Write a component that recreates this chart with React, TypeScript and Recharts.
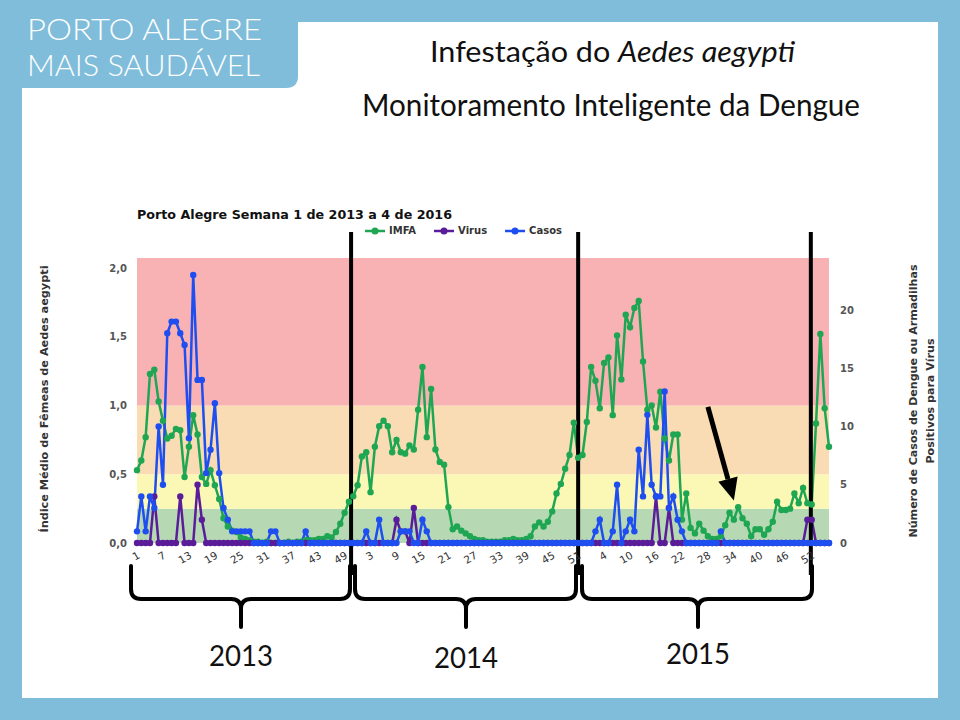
import React from 'react';
import { ComposedChart, Line, XAxis, YAxis, ReferenceArea, ReferenceLine, Legend } from 'recharts';

// IMFA (índice médio de fêmeas), por semana epidemiológica
const imfa2013 = [
  0.53, 0.6, 0.77, 1.23, 1.26, 1.03, 0.89, 0.76, 0.78, 0.83,
  0.82, 0.48, 0.7, 0.93, 0.79, 0.48, 0.43, 0.53, 0.42, 0.32,
  0.18, 0.12, 0.09, 0.08, 0.04, 0.03, 0.02, 0.01, 0.01, 0.0,
  0.01, 0.0, 0.0, 0.0, 0.0, 0.01, 0.0, 0.01, 0.01, 0.02,
  0.02, 0.02, 0.03, 0.03, 0.05, 0.04, 0.08, 0.14, 0.22, 0.3,
  0.34, 0.42,
];
const imfa2014 = [
  0.63, 0.66, 0.37, 0.7, 0.85, 0.89, 0.85, 0.66, 0.75, 0.66,
  0.65, 0.71, 0.68, 0.97, 1.28, 0.77, 1.12, 0.68, 0.59, 0.57,
  0.26, 0.1, 0.12, 0.09, 0.07, 0.05, 0.03, 0.02, 0.02, 0.01,
  0.01, 0.01, 0.01, 0.02, 0.02, 0.03, 0.02, 0.02, 0.03, 0.05,
  0.12, 0.15, 0.12, 0.155, 0.23, 0.36, 0.43, 0.54, 0.64, 0.875,
  0.62, 0.64, 0.88,
];
const imfa2015 = [
  1.28, 1.18, 0.98, 1.31, 1.35, 0.93, 1.51, 1.19, 1.66, 1.57,
  1.71, 1.76, 1.32, 0.97, 1.0, 0.84, 1.1, 0.76, 0.6, 0.79,
  0.79, 0.17, 0.36, 0.11, 0.07, 0.14, 0.09, 0.05, 0.03, 0.03,
  0.05, 0.13, 0.22, 0.17, 0.26, 0.18, 0.14, 0.05, 0.1, 0.1,
  0.06, 0.1, 0.155, 0.3, 0.24, 0.24, 0.25, 0.36, 0.29, 0.4,
  0.29, 0.28,
];
const imfa2016 = [0.87, 1.52, 0.98, 0.7];

// armadilhas positivas para vírus
const virus2013 = [
  0, 0, 0, 0, 4, 0, 0, 0, 0, 0, 4, 0, 0, 0, 5, 2, 0, 0, 0, 0,
  0, 0, 0, 0, 0, 0, 0, 0, 0, 0, 0, 0, 0, 0, 0, 0, 0, 0, 0, 0,
  0, 0, 0, 0, 0, 0, 0, 0, 0, 0, 0, 0,
];
const virus2014 = [
  0, 0, 0, 0, 0, 0, 0, 0, 2, 1, 1, 0, 3, 0, 0, 0, 0, 0, 0, 0,
  0, 0, 0, 0, 0, 0, 0, 0, 0, 0, 0, 0, 0, 0, 0, 0, 0, 0, 0, 0,
  0, 0, 0, 0, 0, 0, 0, 0, 0, 0, 0, 0, 0,
];
const virus2015 = [
  0, 0, 0, 0, 0, 0, 0, 0, 0, 0, 0, 0, 0, 0, 0, 4, 0, 0, 3, 0,
  0, 0, 0, 0, 0, 0, 0, 0, 0, 0, 0, 0, 0, 0, 0, 0, 0, 0, 0, 0,
  0, 0, 0, 0, 0, 0, 0, 0, 0, 0, 2, 2,
];
const virus2016 = [0, 0, 0, 0];

// casos de dengue
const casos2013 = [
  1, 4, 1, 4, 3, 10, 5, 18, 19, 19, 18, 17, 9, 23, 14, 14, 6, 8, 12, 6,
  3, 2, 1, 1, 1, 1, 1, 0, 0, 0, 0, 1, 1, 0, 0, 0, 0, 0, 0, 1,
  0, 0, 0, 0, 0, 0, 0, 0, 0, 0, 0, 0,
];
const casos2014 = [
  0, 1, 0, 0, 2, 0, 0, 0, 0, 1, 1, 1, 0, 0, 2, 1, 0, 0, 0, 0,
  0, 0, 0, 0, 0, 0, 0, 0, 0, 0, 0, 0, 0, 0, 0, 0, 0, 0, 0, 0,
  0, 0, 0, 0, 0, 0, 0, 0, 0, 0, 0, 0, 0,
];
const casos2015 = [
  0, 1, 2, 0, 0, 1, 5, 0, 1, 2, 1, 8, 4, 11, 5, 4, 4, 13, 3, 4,
  2, 1, 0, 0, 0, 0, 0, 0, 0, 0, 1, 0, 0, 0, 0, 0, 0, 0, 0, 0,
  0, 0, 0, 0, 0, 0, 0, 0, 0, 0, 0, 0,
];
const casos2016 = [0, 0, 0, 0];

const seriesNames = ['IMFA', 'Virus', 'Casos'];
const yearWeeks = [52, 53, 52, 4];
const yearNames = ['2013', '2014', '2015'];
const tickIdx = [
  1, 7, 13, 19, 25, 31, 37, 43, 49, 55, 61, 67, 73, 79, 85, 91, 97, 103,
  109, 115, 121, 127, 133, 139, 145, 151, 157,
];
const bandLimits = [0, 0.25, 0.5, 1.0, 2.073];
const dividerWeeks = [50.5, 103, 156.8];
const arrowFrom = { x: 133, y: 0.99 };
const arrowTo = { x: 139, y: 0.31 };

const imfa = [...imfa2013, ...imfa2014, ...imfa2015, ...imfa2016];
const virus = [...virus2013, ...virus2014, ...virus2015, ...virus2016];
const casos = [...casos2013, ...casos2014, ...casos2015, ...casos2016];

const rows = imfa.map((v, i) => ({ idx: i + 1, imfa: v, virus: virus[i], casos: casos[i] }));

const weekLabel = (i: number) => {
  let w = i;
  for (const n of yearWeeks) {
    if (w <= n) return String(w);
    w -= n;
  }
  return String(w);
};

const FRAME = '#7fbddb';
const GREEN = '#1fa653';
const PURPLE = '#5a1c99';
const BLUE = '#1f4ef0';
const BAND_COLORS = ['#b6d9b4', '#fbf8b6', '#f9dcb3', '#f9b2b4'];
const VERDANA = '"DejaVu Sans", Verdana, sans-serif';
const CALIBRI = 'Lato, "Open Sans", sans-serif';

const Divider = (p: any) => (
  <line x1={p.x1} x2={p.x2} y1={232} y2={575} stroke="#000" strokeWidth={4} />
);

const Arrow = (p: any) => {
  const { x1, y1, x2, y2 } = p;
  const dx = x2 - x1;
  const dy = y2 - y1;
  const len = Math.hypot(dx, dy) || 1;
  const ux = dx / len;
  const uy = dy / len;
  const hl = 22;
  const hw = 10;
  const bx = x2 - ux * hl;
  const by = y2 - uy * hl;
  return (
    <g>
      <line x1={x1} y1={y1} x2={bx} y2={by} stroke="#000" strokeWidth={5} />
      <polygon
        points={`${x2},${y2} ${bx - uy * hw},${by + ux * hw} ${bx + uy * hw},${by - ux * hw}`}
        fill="#000"
      />
    </g>
  );
};

const renderLegend = (props: any) => {
  const items = [...(props.payload || [])].sort(
    (a: any, b: any) => seriesNames.indexOf(a.value) - seriesNames.indexOf(b.value)
  );
  return (
    <div style={{ display: 'flex', gap: 18, fontFamily: VERDANA, fontSize: 10, fontWeight: 'bold', color: '#333' }}>
      {items.map((e: any) => (
        <div key={e.value} style={{ display: 'flex', alignItems: 'center' }}>
          <svg width={20} height={10}>
            <line x1={0} y1={5} x2={20} y2={5} stroke={e.color} strokeWidth={2.5} />
            <circle cx={10} cy={5} r={3.5} fill={e.color} />
          </svg>
          <span style={{ marginLeft: 4 }}>{e.value}</span>
        </div>
      ))}
    </div>
  );
};

const brace = (x1: number, x2: number, xm: number, yTop: number, yBar: number, yTip: number, r = 10) =>
  `M${x1},${yTop} L${x1},${yBar - r} Q${x1},${yBar} ${x1 + r},${yBar} L${xm - r},${yBar} ` +
  `Q${xm},${yBar} ${xm},${yBar + r} L${xm},${yTip} M${xm},${yBar + r} Q${xm},${yBar} ${xm + r},${yBar} ` +
  `L${x2 - r},${yBar} Q${x2},${yBar} ${x2},${yBar - r} L${x2},${yTop}`;

const braces = [
  { x1: 131, x2: 350, xm: 241, ty: 666 },
  { x1: 355, x2: 576, xm: 466, ty: 668 },
  { x1: 582, x2: 812, xm: 698, ty: 664 },
];

export default function App() {
  return (
    <div style={{ position: 'absolute', left: 0, top: 0, width: 960, height: 720, overflow: 'hidden' }}>
      <svg width={960} height={720} style={{ position: 'absolute', left: 0, top: 0 }}>
        <rect width={960} height={720} fill={FRAME} />
        <rect x={22} y={22} width={916} height={676} fill="#fff" />
        <path d="M0,0 H298 V76 Q298,88 286,88 H0 Z" fill={FRAME} />
        <text x={27} y={40} fill="#fff" fontSize={30} fontFamily={CALIBRI} fontWeight={300}
          textLength={235} lengthAdjust="spacingAndGlyphs">PORTO ALEGRE</text>
        <text x={27} y={76} fill="#fff" fontSize={30} fontFamily={CALIBRI} fontWeight={300}
          textLength={233} lengthAdjust="spacingAndGlyphs">MAIS SAUDÁVEL</text>
        <text x={430} y={62} fill="#111" fontSize={28} fontFamily={CALIBRI}
          textLength={365} lengthAdjust="spacingAndGlyphs">
          Infestação do <tspan fontStyle="italic">Aedes aegypti</tspan>
        </text>
        <text x={362} y={116} fill="#111" fontSize={30} fontFamily={CALIBRI}
          textLength={498} lengthAdjust="spacingAndGlyphs">Monitoramento Inteligente da Dengue</text>
        <text x={137} y={219} fill="#111" fontSize={12.5} fontWeight="bold" fontFamily={VERDANA}
          textLength={315} lengthAdjust="spacingAndGlyphs">Porto Alegre Semana 1 de 2013 a 4 de 2016</text>
        <text transform="translate(48,399) rotate(-90)" textAnchor="middle" fill="#333" fontSize={10.5}
          fontWeight="bold" fontFamily={VERDANA} textLength={267} lengthAdjust="spacingAndGlyphs">
          Índice Médio de Fêmeas de Aedes aegypti
        </text>
        <text transform="translate(917,401) rotate(-90)" textAnchor="middle" fill="#333" fontSize={10.5}
          fontWeight="bold" fontFamily={VERDANA} textLength={273} lengthAdjust="spacingAndGlyphs">
          Número de Casos de Dengue ou Armadilhas
        </text>
        <text transform="translate(934,401) rotate(-90)" textAnchor="middle" fill="#333" fontSize={10.5}
          fontWeight="bold" fontFamily={VERDANA} textLength={125} lengthAdjust="spacingAndGlyphs">
          Positivos para Vírus
        </text>
      </svg>

      <div style={{ position: 'absolute', left: 0, top: 0 }}>
        <ComposedChart width={960} height={720} data={rows} margin={{ top: 258, right: 71, bottom: 147, left: 77 }}>
          <XAxis
            dataKey="idx"
            type="number"
            domain={[1, 161]}
            ticks={tickIdx}
            interval={0}
            tickFormatter={weekLabel}
            axisLine={false}
            tickLine={false}
            height={30}
            tick={{ angle: -30, textAnchor: 'end', fontSize: 10.5, fill: '#333', fontFamily: VERDANA }}
          />
          <YAxis
            yAxisId="l"
            width={60}
            domain={[0, 2.073]}
            ticks={[0, 0.5, 1, 1.5, 2]}
            tickFormatter={(v: number) => v.toFixed(1).replace('.', ',')}
            axisLine={false}
            tickLine={false}
            tickMargin={4}
            tick={{ fontSize: 10, fontWeight: 'bold', fill: '#555', fontFamily: VERDANA }}
          />
          <YAxis
            yAxisId="r"
            orientation="right"
            width={60}
            domain={[0, 24.46]}
            ticks={[0, 5, 10, 15, 20]}
            axisLine={false}
            tickLine={false}
            tickMargin={5}
            tick={{ fontSize: 10, fontWeight: 'bold', fill: '#555', fontFamily: VERDANA }}
          />
          {BAND_COLORS.map((c, i) => (
            <ReferenceArea key={c} yAxisId="l" y1={bandLimits[i]} y2={bandLimits[i + 1]}
              fill={c} fillOpacity={1} stroke="none" />
          ))}
          <Legend
            layout="horizontal"
            verticalAlign="middle"
            align="center"
            content={renderLegend}
            wrapperStyle={{ top: 225, left: 365, width: 240, height: 14 }}
          />
          <Line yAxisId="l" name="IMFA" dataKey="imfa" stroke={GREEN} strokeWidth={2.5}
            dot={{ r: 3.2, fill: GREEN, stroke: GREEN, strokeWidth: 0 }} isAnimationActive={false} />
          <Line yAxisId="r" name="Virus" dataKey="virus" stroke={PURPLE} strokeWidth={2.5}
            dot={{ r: 3.2, fill: PURPLE, stroke: PURPLE, strokeWidth: 0 }} isAnimationActive={false} />
          <Line yAxisId="r" name="Casos" dataKey="casos" stroke={BLUE} strokeWidth={2.5}
            dot={{ r: 3.2, fill: BLUE, stroke: BLUE, strokeWidth: 0 }} isAnimationActive={false} />
          {dividerWeeks.map((w) => (
            <ReferenceLine key={w} yAxisId="l" x={w} shape={Divider} ifOverflow="visible" />
          ))}
          <ReferenceLine yAxisId="l" segment={[arrowFrom, arrowTo]} shape={Arrow} ifOverflow="visible" />
        </ComposedChart>
      </div>

      <svg width={960} height={720} style={{ position: 'absolute', left: 0, top: 0, pointerEvents: 'none' }}>
        {braces.map((b, i) => (
          <g key={yearNames[i]}>
            <path d={brace(b.x1, b.x2, b.xm, 566, 599, 627)} fill="none" stroke="#000" strokeWidth={4}
              strokeLinecap="round" strokeLinejoin="round" />
            <text x={b.xm - 32} y={b.ty} fill="#111" fontSize={28} fontFamily={CALIBRI}
              textLength={64} lengthAdjust="spacingAndGlyphs">{yearNames[i]}</text>
          </g>
        ))}
      </svg>
    </div>
  );
}
